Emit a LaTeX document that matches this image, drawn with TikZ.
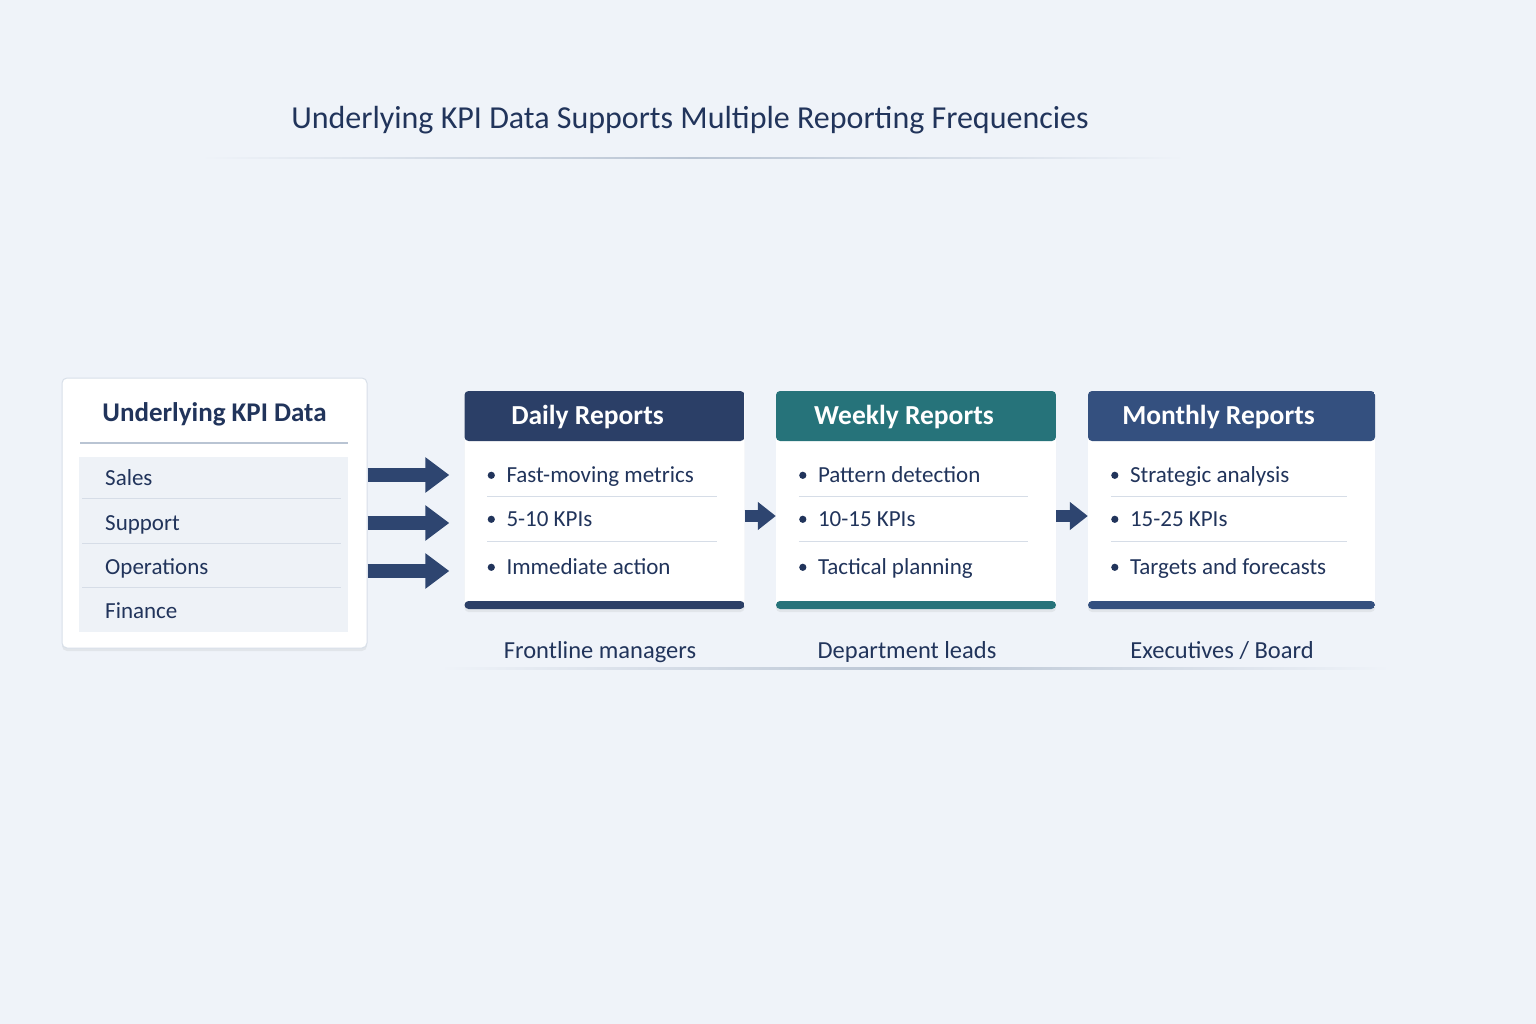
\documentclass[tikz,border=0pt]{standalone}
\usepackage{fontspec}
\setmainfont{Carlito}
\usetikzlibrary{arrows.meta,positioning,shadows}
\definecolor{bg}{HTML}{EFF3F9}
\definecolor{ink}{HTML}{21345B}
\definecolor{dailyc}{HTML}{2B3F67}
\definecolor{weeklyc}{HTML}{26737A}
\definecolor{monthc}{HTML}{34507F}
\definecolor{arrowc}{HTML}{2E4570}
\definecolor{panel}{HTML}{EEF2F7}
\definecolor{sep}{HTML}{D6DDE7}
\definecolor{edge}{HTML}{D8DFE9}
\definecolor{rule}{HTML}{B9C4D3}
\begin{document}
\begin{tikzpicture}
[x=1pt,y=-1pt,
 every node/.style={inner sep=0pt, text=ink, font=\fontsize{23}{27}\selectfont},
 datbox/.style={rectangle, rounded corners=5pt, fill=white, draw=edge, line width=1pt,
   minimum width=305pt, minimum height=270pt,
   drop shadow={opacity=.12, shadow xshift=0pt, shadow yshift=-3pt}},
 rbox/.style={rectangle, rounded corners=4pt, fill=white, minimum height=218pt,
   drop shadow={opacity=.12, shadow xshift=0pt, shadow yshift=-3pt},
   path picture={
     \fill[#1] (path picture bounding box.north west) rectangle ([yshift=-50pt]path picture bounding box.north east);
     \fill[#1] (path picture bounding box.south west) rectangle ([yshift=8pt]path picture bounding box.south east);}},
 headtxt/.style={anchor=base, text=white, font=\fontsize{27.5}{32}\selectfont\bfseries},
 item/.style={anchor=base west},
 rowline/.style={draw=sep, line width=1pt},
 bigarrow/.style={draw=arrowc, line width=14pt, -{Triangle[length=24pt,width=34pt]}},
 smallarrow/.style={draw=arrowc, line width=12pt, -{Triangle[length=18pt,width=27pt]}}]
% background
\fill[bg] (0,0) rectangle (1536,1024);
\useasboundingbox (0,0) rectangle (1536,1024);

% title
\node[anchor=base, font=\fontsize{32}{38}\selectfont] (title) at (690,129)
  {Underlying KPI Data Supports Multiple Reporting Frequencies};
\shade[left color=bg, right color=bg, middle color=rule] (200,157.5) rectangle (1185,159);

% source data
\node[datbox] (data) at (214.5,513) {};
\node[anchor=base, font=\fontsize{27}{32}\selectfont\bfseries] (data-h) at (214.5,421) {Underlying KPI Data};
\draw[draw=rule, line width=1.2pt] (80,443) -- (348,443);
\fill[panel] (79,457) rectangle (348,632);
\node[item] (sales) at (105,485) {Sales};
\node[item] (support) at (105,530) {Support};
\node[item] (ops) at (105,574) {Operations};
\node[item] (fin) at (105,618) {Finance};
\foreach \y in {498,543,587}
  \draw[rowline] (82,\y) -- (341,\y);

% report boxes
\foreach \name/\cx/\w/\clr/\dx/\head in {daily/604.5/280/dailyc/-17/Daily Reports,
    weekly/916/280/weeklyc/-12/Weekly Reports, monthly/1231.5/287/monthc/-13/Monthly Reports}
{
  \node[rbox=\clr, minimum width=\w] (\name) at (\cx,500) {};
  \node[headtxt] (\name-h) at ([xshift=\dx pt,yshift=-34pt]\name.north) {\head};
  \draw[rowline] ([xshift=23pt,yshift=-106pt]\name.north west) -- ([xshift=-28pt,yshift=-106pt]\name.north east);
  \draw[rowline] ([xshift=23pt,yshift=-151pt]\name.north west) -- ([xshift=-28pt,yshift=-151pt]\name.north east);
}
\foreach \name/\a/\b/\c in {daily/Fast-moving metrics/5-10 KPIs/Immediate action,
    weekly/Pattern detection/10-15 KPIs/Tactical planning,
    monthly/Strategic analysis/15-25 KPIs/Targets and forecasts}
{
  \node[item] (\name-1) at ([xshift=42pt,yshift=-92pt]\name.north west) {\a};
  \node[item] (\name-2) at ([xshift=42pt,yshift=-136pt]\name.north west) {\b};
  \node[item] (\name-3) at ([xshift=42pt,yshift=-184pt]\name.north west) {\c};
  \foreach \k in {1,2,3}
    \fill[ink] ([xshift=-15pt,yshift=7.5pt]\name-\k.base west) circle (3.6pt);
}

% audiences
\node[anchor=base, font=\fontsize{24.5}{29}\selectfont] (aud-daily) at (600,658) {Frontline managers};
\node[anchor=base, font=\fontsize{24.5}{29}\selectfont] (aud-weekly) at (907,658) {Department leads};
\node[anchor=base, font=\fontsize{24.5}{29}\selectfont] (aud-monthly) at (1222,658) {Executives / Board};
\shade[left color=bg, right color=bg, middle color=rule] (440,667.5) rectangle (1390,669);

% arrows
\draw[bigarrow, shorten >=15pt] (data.east |- 0,475) -- (daily.west |- 0,475);
\draw[bigarrow, shorten >=15pt] (data.east |- 0,523) -- (daily.west |- 0,523);
\draw[bigarrow, shorten >=15pt] (data.east |- 0,571) -- (daily.west |- 0,571);
\draw[smallarrow] ([yshift=-16pt]daily.east) -- ([yshift=-16pt]weekly.west);
\draw[smallarrow] ([yshift=-16pt]weekly.east) -- ([yshift=-16pt]monthly.west);
\end{tikzpicture}
\end{document}
